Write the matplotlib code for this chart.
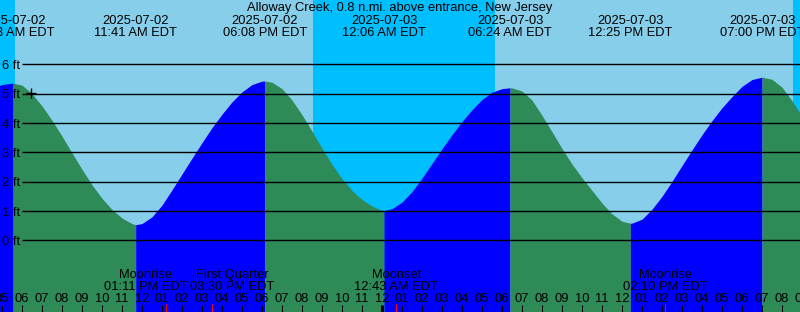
#!/usr/bin/env python3

import matplotlib

matplotlib.use("Agg")
import matplotlib.pyplot as plt

# Tide level, hours after 2025-07-02 00:00 EDT
tide_hours = [
    4.5, 5.0, 5.55, 6.0, 6.5, 7.0, 7.5, 8.0, 8.5, 9.0, 9.5, 10.0, 10.5, 11.0, 11.5, 11.683,
    12.0, 12.5, 13.0, 13.5, 14.0, 14.5, 15.0, 15.5, 16.0, 16.5, 17.0, 17.5, 18.0, 18.133,
    18.5, 19.0, 19.5, 20.0, 20.5, 21.0, 21.5, 22.0, 22.5, 23.0, 23.5, 24.0, 24.1,
    24.5, 25.0, 25.5, 26.0, 26.5, 27.0, 27.5, 28.0, 28.5, 29.0, 29.5, 30.0, 30.4,
    30.5, 31.0, 31.5, 32.0, 32.5, 33.0, 33.5, 34.0, 34.5, 35.0, 35.5, 36.0, 36.417,
    36.5, 37.0, 37.5, 38.0, 38.5, 39.0, 39.5, 40.0, 40.5, 41.0, 41.5, 42.0, 42.5, 43.0,
    43.5, 44.0, 44.5, 45.0,
]
tide_ft = [
    5.17, 5.31, 5.36, 5.29, 5.00, 4.58, 4.09, 3.55, 2.98, 2.42, 1.89, 1.43, 1.05, 0.76, 0.57, 0.53,
    0.57, 0.80, 1.20, 1.72, 2.26, 2.80, 3.33, 3.84, 4.30, 4.72, 5.06, 5.31, 5.425, 5.43,
    5.39, 5.17, 4.78, 4.28, 3.72, 3.14, 2.59, 2.10, 1.70, 1.39, 1.17, 1.02, 1.01,
    1.08, 1.30, 1.66, 2.12, 2.62, 3.12, 3.60, 4.05, 4.45, 4.80, 5.05, 5.17, 5.20,
    5.197, 5.09, 4.78, 4.26, 3.70, 3.13, 2.60, 2.13, 1.70, 1.27, 0.90, 0.65, 0.58,
    0.585, 0.72, 1.06, 1.50, 2.01, 2.55, 3.08, 3.60, 4.08, 4.52, 4.90, 5.25, 5.48, 5.56,
    5.49, 5.22, 4.76, 4.22,
]

# High / low tides (top labels)
event_hours = [5.55, 11.683, 18.133, 24.1, 30.4, 36.417, 43.0]
event_dates = ["2025-07-02", "2025-07-02", "2025-07-02", "2025-07-03",
               "2025-07-03", "2025-07-03", "2025-07-03"]
event_times = ["05:33 AM EDT", "11:41 AM EDT", "06:08 PM EDT", "12:06 AM EDT",
               "06:24 AM EDT", "12:25 PM EDT", "07:00 PM EDT"]

# Sunrise / sunset
sunrise_hours = [5.635, 29.65]
sunset_hours = [20.55, 44.57]

# Moon events (bottom labels)
moon_hours = [13.183, 15.5, 24.717, 38.167]
moon_names = ["Moonrise", "First Quarter", "Moonset", "Moonrise"]
moon_times = ["01:11 PM EDT", "03:30 PM EDT", "12:43 AM EDT", "02:10 PM EDT"]
moon_shift = [-1.0, 1.0, 0.0, 0.0]  # labels nudged apart, in hours

now_hour = 6.43
now_ft = 5.03

levels = [0, 1, 2, 3, 4, 5, 6]
title = "Alloway Creek, 0.8 n.mi. above entrance, New Jersey"

DAY = "#87CEEB"
NIGHT = "#00BFFF"
RISING = "#0000FF"
FALLING = "#2E8B57"
W, H = 800, 312

plt.rcParams["font.family"] = ["Liberation Sans", "DejaVu Sans"]
FS = 9.3

fig = plt.figure(figsize=(W / 100, H / 100), dpi=100)
ax = fig.add_axes([0, 0, 1, 1])
x0, x1 = 4.9, 44.9
y0, y1 = -2.445, 8.193
ax.set_xlim(x0, x1)
ax.set_ylim(y0, y1)
ax.axis("off")


def yfrac(px):
    return 1 - px / H


# Day / night background
ax.axvspan(x0 - 1, sunrise_hours[0], color=NIGHT, lw=0, zorder=0)
for rise, sset in zip(sunrise_hours, sunset_hours):
    ax.axvspan(rise, sset, color=DAY, lw=0, zorder=0)
ax.axvspan(sunset_hours[0], sunrise_hours[1], color=NIGHT, lw=0, zorder=0)
ax.axvspan(sunset_hours[1], x1 + 1, color=NIGHT, lw=0, zorder=0)

# Water, coloured by rising / falling
bounds = [tide_hours[0]] + event_hours + [tide_hours[-1]]
for i in range(len(bounds) - 1):
    a, b = bounds[i], bounds[i + 1]
    xs = [t for t in tide_hours if a <= t <= b]
    ys = [h for t, h in zip(tide_hours, tide_ft) if a <= t <= b]
    colour = RISING if i % 2 == 0 else FALLING
    ax.fill_between(xs, y0 - 1, ys, color=colour, lw=0, zorder=1)

# Level lines
ax.hlines(levels, x0 + (x1 - x0) * 22 / W, x1, color="black", lw=1.0, zorder=3)
yt = ax.get_yaxis_transform()
for lv in levels:
    ax.text(20.5 / W, lv - 4.7 / 29.33, f"{lv} ft", transform=yt,
            ha="right", va="baseline", fontsize=FS, zorder=4)

ax.plot([now_hour], [now_ft], marker="+", color="black", ms=6.5, mew=1.0, zorder=4)

# Title and tide labels
ax.text(0.5, yfrac(11.5), title, transform=ax.transAxes, ha="center", va="baseline", fontsize=FS)
xt = ax.get_xaxis_transform()
for t, d, s in zip(event_hours, event_dates, event_times):
    ax.text(t, yfrac(24), d, transform=xt, ha="center", va="baseline", fontsize=FS)
    ax.text(t, yfrac(36), s, transform=xt, ha="center", va="baseline", fontsize=FS)

# Moon labels
for t, n, s, dx in zip(moon_hours, moon_names, moon_times, moon_shift):
    ax.text(t + dx, yfrac(278.3), n, transform=xt, ha="center", va="baseline", fontsize=FS, zorder=4)
    ax.text(t + dx, yfrac(290), s, transform=xt, ha="center", va="baseline", fontsize=FS, zorder=4)

# Hour ticks
for hr in range(4, 47):
    lw = 2.2 if hr % 24 == 0 else 0.75
    ax.vlines(hr, 0, 7 / H, transform=xt, color="black", lw=lw, zorder=4)
    ax.text(hr, yfrac(301.7), f"{(hr - 1) % 12 + 1:02d}", transform=xt,
            ha="center", va="baseline", fontsize=FS, zorder=4)
ax.vlines(moon_hours, 0, 8.5 / H, transform=xt, color="red", lw=0.75, zorder=5)

fig.savefig("out.png", dpi=100)
